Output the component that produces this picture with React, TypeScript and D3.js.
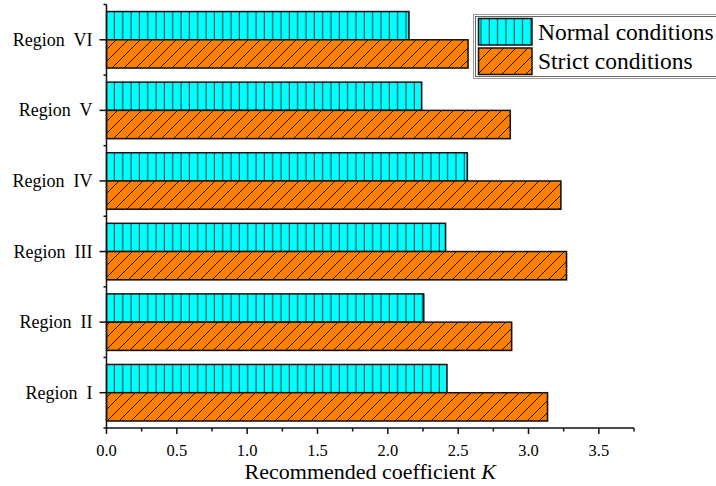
import { useMemo } from "react";
import * as d3 from "d3";

const REGIONS = ["Region  VI", "Region  V", "Region  IV", "Region  III", "Region  II", "Region  I"];
const NORMAL = [2.15, 2.24, 2.565, 2.41, 2.255, 2.42];
const STRICT = [2.57, 2.87, 3.23, 3.27, 2.88, 3.135];
const SERIES = ["Normal conditions", "Strict conditions"];
const X_TICKS = [0, 0.5, 1, 1.5, 2, 2.5, 3, 3.5];
const X_MINOR = [0.25, 0.75, 1.25, 1.75, 2.25, 2.75, 3.25, 3.75];

const W = 716;
const H = 486;
const FONT = "Liberation Serif, Times New Roman, Times, serif";

export default function App() {
  const x = useMemo(() => d3.scaleLinear().domain([0, 3.75]).range([106.5, 634]), []);
  const y = useMemo(
    () => d3.scaleBand<string>().domain(REGIONS).range([4.5, 428]).paddingInner(0.2).paddingOuter(0.1),
    []
  );
  const sub = d3.scaleBand<string>().domain(SERIES).range([0, y.bandwidth()]);
  const fills = ["url(#vlines)", "url(#hatch)"];
  const step = y.step();
  const x0 = x(0);
  const axisY = 428;
  const txt = { fontFamily: FONT, whiteSpace: "pre" as const };

  // boundaries between categories (minor ticks)
  const bounds = REGIONS.map((r) => (y(r) as number) + y.bandwidth() / 2 - step / 2);
  bounds.push((y(REGIONS[REGIONS.length - 1]) as number) + y.bandwidth() / 2 + step / 2);

  return (
    <svg
      width={W}
      height={H}
      style={{ position: "absolute", left: 0, top: 0, background: "#fff", fontFamily: FONT }}
    >
      <defs>
        <pattern id="vlines" patternUnits="userSpaceOnUse" x={x0 + 0.2} y={0} width={8.33} height={10}>
          <rect width={8.33} height={10} fill="#00FFFF" />
          <line x1={7.6} x2={7.6} y1={0} y2={10} stroke="#1c7d7d" strokeWidth={1} />
          <line x1={8.3} x2={8.3} y1={0} y2={10} stroke="#0a1f1f" strokeWidth={1} />
        </pattern>
        <pattern id="hatch" patternUnits="userSpaceOnUse" width={12} height={12}>
          <rect width={12} height={12} fill="#FF8000" />
          <path d="M0,12 L12,0 M-3,3 L3,-3 M9,15 L15,9" stroke="#111" strokeWidth={1} />
        </pattern>
      </defs>

      {/* bars */}
      {REGIONS.map((r, i) =>
        [NORMAL[i], STRICT[i]].map((v, j) => {
          const by = (y(r) as number) + (sub(SERIES[j]) as number);
          return (
            <g key={r + j}>
              <rect x={x0 + 1} y={by + 1} width={x(v) - x0} height={sub.bandwidth()} fill="#9a9a9a" opacity={0.5} />
              <rect
                x={x0}
                y={by}
                width={x(v) - x0}
                height={sub.bandwidth()}
                fill={fills[j]}
                stroke="#111"
                strokeWidth={1.5}
              />
            </g>
          );
        })
      )}

      {/* y axis */}
      <line x1={x0} x2={x0} y1={bounds[0]} y2={axisY} stroke="#111" strokeWidth={1.5} />
      {bounds.map((b, i) => (
        <line key={"yb" + i} x1={x0 - 3} x2={x0} y1={b} y2={b} stroke="#111" strokeWidth={1.5} />
      ))}
      {REGIONS.map((r) => {
        const cy = (y(r) as number) + y.bandwidth() / 2;
        return (
          <g key={"yl" + r}>
            <line x1={x0 - 7} x2={x0} y1={cy} y2={cy} stroke="#111" strokeWidth={1.5} />
            <text x={92.5} y={cy} dy="0.34em" textAnchor="end" fontSize={18} fill="#000" style={txt}>
              {r}
            </text>
          </g>
        );
      })}

      {/* x axis */}
      <line x1={x0} x2={x(3.75)} y1={axisY} y2={axisY} stroke="#111" strokeWidth={1.5} />
      {X_TICKS.map((t) => (
        <g key={"xt" + t}>
          <line x1={x(t)} x2={x(t)} y1={axisY} y2={axisY + 6} stroke="#111" strokeWidth={1.5} />
          <text x={x(t)} y={456} textAnchor="middle" fontSize={16.5} fill="#000" style={txt}>
            {d3.format(".1f")(t)}
          </text>
        </g>
      ))}
      {X_MINOR.map((t) => (
        <line key={"xm" + t} x1={x(t)} x2={x(t)} y1={axisY} y2={axisY + 3.5} stroke="#111" strokeWidth={1.5} />
      ))}
      <text x={(x0 + x(3.75)) / 2} y={479} textAnchor="middle" fontSize={22} fill="#000" style={txt}>
        Recommended coefficient <tspan fontStyle="italic">K</tspan>
      </text>

      {/* legend */}
      <rect x={473.5} y={14.5} width={250} height={64} fill="#fff" stroke="#999" strokeWidth={1} />
      <rect x={475.5} y={16.5} width={250} height={60} fill="none" stroke="#666" strokeWidth={1} />
      {SERIES.map((s, j) => {
        const ly = j === 0 ? 18.5 : 48;
        return (
          <g key={"lg" + s}>
            <rect x={478.5} y={ly} width={53.5} height={26.5} fill={fills[j]} stroke="#111" strokeWidth={1.5} />
            <text x={538} y={ly + 21} fontSize={23.5} fill="#000" style={txt}>
              {s}
            </text>
          </g>
        );
      })}
    </svg>
  );
}
